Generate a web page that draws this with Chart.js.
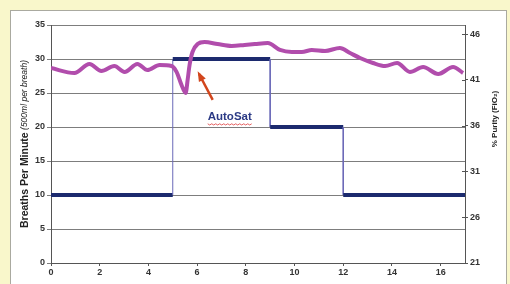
<!DOCTYPE html>
<html>
<head>
<meta charset="utf-8">
<script src="https://cdn.jsdelivr.net/npm/chart.js@4"></script>
<style>
  html, body { margin: 0; padding: 0; background: #f9f7cb; }
  #wrap { width: 510px; height: 284px; }
</style>
</head>
<body>
<div id="wrap"><canvas id="chart" width="510" height="284"></canvas></div>
<script>
// Time axis (minutes) and tick labels
const xTicks = [0, 2, 4, 6, 8, 10, 12, 14, 16];
const breathTicks = [0, 5, 10, 15, 20, 25, 30, 35];
const purityTicks = [21, 26, 31, 36, 41, 46];

// Breaths per minute (step setting)
const stepTime = [0, 5, 5, 9, 9, 12, 12, 17];
const stepBreaths = [10, 10, 30, 30, 20, 20, 10, 10];

// % purity (FiO2) trace
const purityTime = [0, 0.96, 1.58, 2.07, 2.6, 3.02, 3.55, 3.96, 4.46, 4.95, 5.16, 5.36, 5.53,
  5.61, 5.69, 5.81, 6.02, 6.31, 6.84, 7.42, 7.95, 8.37, 8.9, 9.4, 9.89, 10.3, 10.71, 11.25,
  11.86, 12.28, 12.69, 13.22, 13.72, 14.21, 14.74, 15.28, 15.9, 16.51, 16.92];
const purityValues = [42.3, 41.75, 42.74, 41.97, 42.52, 41.87, 42.74, 42.08, 42.63, 42.52, 41.86, 40.45, 39.57,
  40.99, 42.63, 44.05, 44.92, 45.14, 44.92, 44.71, 44.82, 44.92, 45.03, 44.27, 44.05, 44.05, 44.27, 44.16,
  44.49, 43.94, 43.39, 42.85, 42.52, 42.85, 41.87, 42.41, 41.65, 42.41, 41.76];

const tickFont = { family: "'Liberation Sans', Arial, sans-serif", size: 9, weight: "bold" };

// Background, box, titles and annotation
const decorations = {
    id: "decorations",
    beforeDraw(chart) {
        const c = chart.ctx;
        c.save();
        c.fillStyle = "#f9f7cb";
        c.fillRect(0, 0, chart.width, chart.height);
        c.fillStyle = "#ffffff";
        c.fillRect(10, 10, 497, 290);
        c.strokeStyle = "#aaaaa0";
        c.lineWidth = 1;
        c.strokeRect(10.5, 10.5, 496, 290);
        c.restore();
    },
    afterDraw(chart) {
        const c = chart.ctx;
        const xs = chart.scales.x, yl = chart.scales.y, yr = chart.scales.y2;
        c.save();

        // inner half of the right axis tick marks
        c.strokeStyle = "#555";
        c.lineWidth = 1;
        purityTicks.forEach(v => {
            const py = Math.round(yr.getPixelForValue(v)) + 0.5;
            c.beginPath();
            c.moveTo(yr.left - 3, py);
            c.lineTo(yr.left, py);
            c.stroke();
        });

        // left title: bold part + italic part
        const bold = "bold 10.5px 'Liberation Sans', Arial, sans-serif";
        const ital = "italic 8.5px 'Liberation Sans', Arial, sans-serif";
        const t1 = "Breaths Per Minute", t2 = " (500ml per breath)";
        c.font = bold; const w1 = c.measureText(t1).width;
        c.font = ital; const w2 = c.measureText(t2).width;
        c.translate(25, 144);
        c.rotate(-Math.PI / 2);
        c.fillStyle = "#222";
        c.textBaseline = "middle";
        c.textAlign = "left";
        c.font = bold;
        c.fillText(t1, -(w1 + w2) / 2, 0);
        c.font = ital;
        c.fillText(t2, -(w1 + w2) / 2 + w1, 0);
        c.setTransform(1, 0, 0, 1, 0, 0);

        // right title
        c.translate(495, 119);
        c.rotate(-Math.PI / 2);
        c.font = "bold 8px 'Liberation Sans', Arial, sans-serif";
        c.textAlign = "center";
        c.fillText("% Purity (FiO\u2082)", 0, 0);
        c.setTransform(1, 0, 0, 1, 0, 0);

        // AutoSat label
        const lx = xs.getPixelForValue(7.34), ly = yl.getPixelForValue(21.5);
        c.font = "bold 11.5px 'Liberation Sans', Arial, sans-serif";
        c.fillStyle = "#2b3a85";
        c.textAlign = "center";
        c.textBaseline = "middle";
        c.fillText("AutoSat", lx, ly);
        const lw = c.measureText("AutoSat").width;
        // red squiggle
        c.strokeStyle = "#e03a3a";
        c.lineWidth = 0.8;
        c.beginPath();
        for (let i = 0; i <= lw; i += 2) {
            const px = lx - lw / 2 + i;
            const py = ly + 7 + (i % 4 === 0 ? 0 : 1.2);
            if (i === 0) c.moveTo(px, py); else c.lineTo(px, py);
        }
        c.stroke();

        // arrow
        const ax0 = xs.getPixelForValue(6.64), ay0 = yl.getPixelForValue(24.0);
        const ax1 = xs.getPixelForValue(6.08), ay1 = yl.getPixelForValue(27.8);
        c.strokeStyle = "#d2461d";
        c.fillStyle = "#d2461d";
        c.lineWidth = 2.5;
        c.beginPath();
        c.moveTo(ax0, ay0);
        c.lineTo(ax1, ay1);
        c.stroke();
        const ang = Math.atan2(ay1 - ay0, ax1 - ax0);
        c.beginPath();
        c.moveTo(ax1 + Math.cos(ang) * 3, ay1 + Math.sin(ang) * 3);
        c.lineTo(ax1 - Math.cos(ang - 0.5) * 8, ay1 - Math.sin(ang - 0.5) * 8);
        c.lineTo(ax1 - Math.cos(ang + 0.5) * 8, ay1 - Math.sin(ang + 0.5) * 8);
        c.closePath();
        c.fill();
        c.restore();
    }
};

const ctx = document.getElementById("chart").getContext("2d");
new Chart(ctx, {
    type: "line",
    data: {
        datasets: [
            {
                label: "% Purity",
                data: purityTime.map((t, i) => ({ x: t, y: purityValues[i] })),
                yAxisID: "y2",
                borderColor: "#b14dac",
                borderWidth: 4,
                pointRadius: 0,
                cubicInterpolationMode: "monotone",
                order: 1
            },
            {
                label: "Breaths Per Minute",
                data: stepTime.map((t, i) => ({ x: t, y: stepBreaths[i] })),
                yAxisID: "y",
                borderColor: "#1c2a6e",
                borderWidth: 4,
                pointRadius: 0,
                tension: 0,
                order: 2,
                segment: {
                    borderWidth: s => s.p0.parsed.x === s.p1.parsed.x ? 1 : 4,
                    borderColor: s => s.p0.parsed.x === s.p1.parsed.x ? "#6a68b8" : "#1c2a6e"
                }
            }
        ]
    },
    options: {
        responsive: false,
        animation: false,
        events: [],
        layout: { padding: { top: 25, left: 0, right: 0, bottom: 0 } },
        plugins: { legend: { display: false }, tooltip: { enabled: false } },
        scales: {
            x: {
                type: "linear",
                min: 0,
                max: 17,
                afterBuildTicks: s => { s.ticks = xTicks.map(v => ({ value: v })); },
                afterFit: s => { s.height = 21; },
                grid: { drawOnChartArea: false, tickLength: 3, color: "#555" },
                border: { color: "#555" },
                ticks: { font: tickFont, color: "#333", padding: 1, maxRotation: 0 }
            },
            y: {
                position: "left",
                min: 0,
                max: 35,
                afterBuildTicks: s => { s.ticks = breathTicks.map(v => ({ value: v })); },
                afterFit: s => { s.width = 51; },
                grid: { color: "#7d7d7d", tickLength: 4 },
                border: { color: "#555" },
                ticks: { font: tickFont, color: "#333", padding: 2 }
            },
            y2: {
                position: "right",
                min: 21,
                max: 47,
                afterBuildTicks: s => { s.ticks = purityTicks.map(v => ({ value: v })); },
                afterFit: s => { s.width = 45; },
                grid: { drawOnChartArea: false, tickLength: 3, color: "#555" },
                border: { color: "#555" },
                ticks: { font: tickFont, color: "#333", padding: 2 }
            }
        }
    },
    plugins: [decorations]
});
</script>
</body>
</html>
